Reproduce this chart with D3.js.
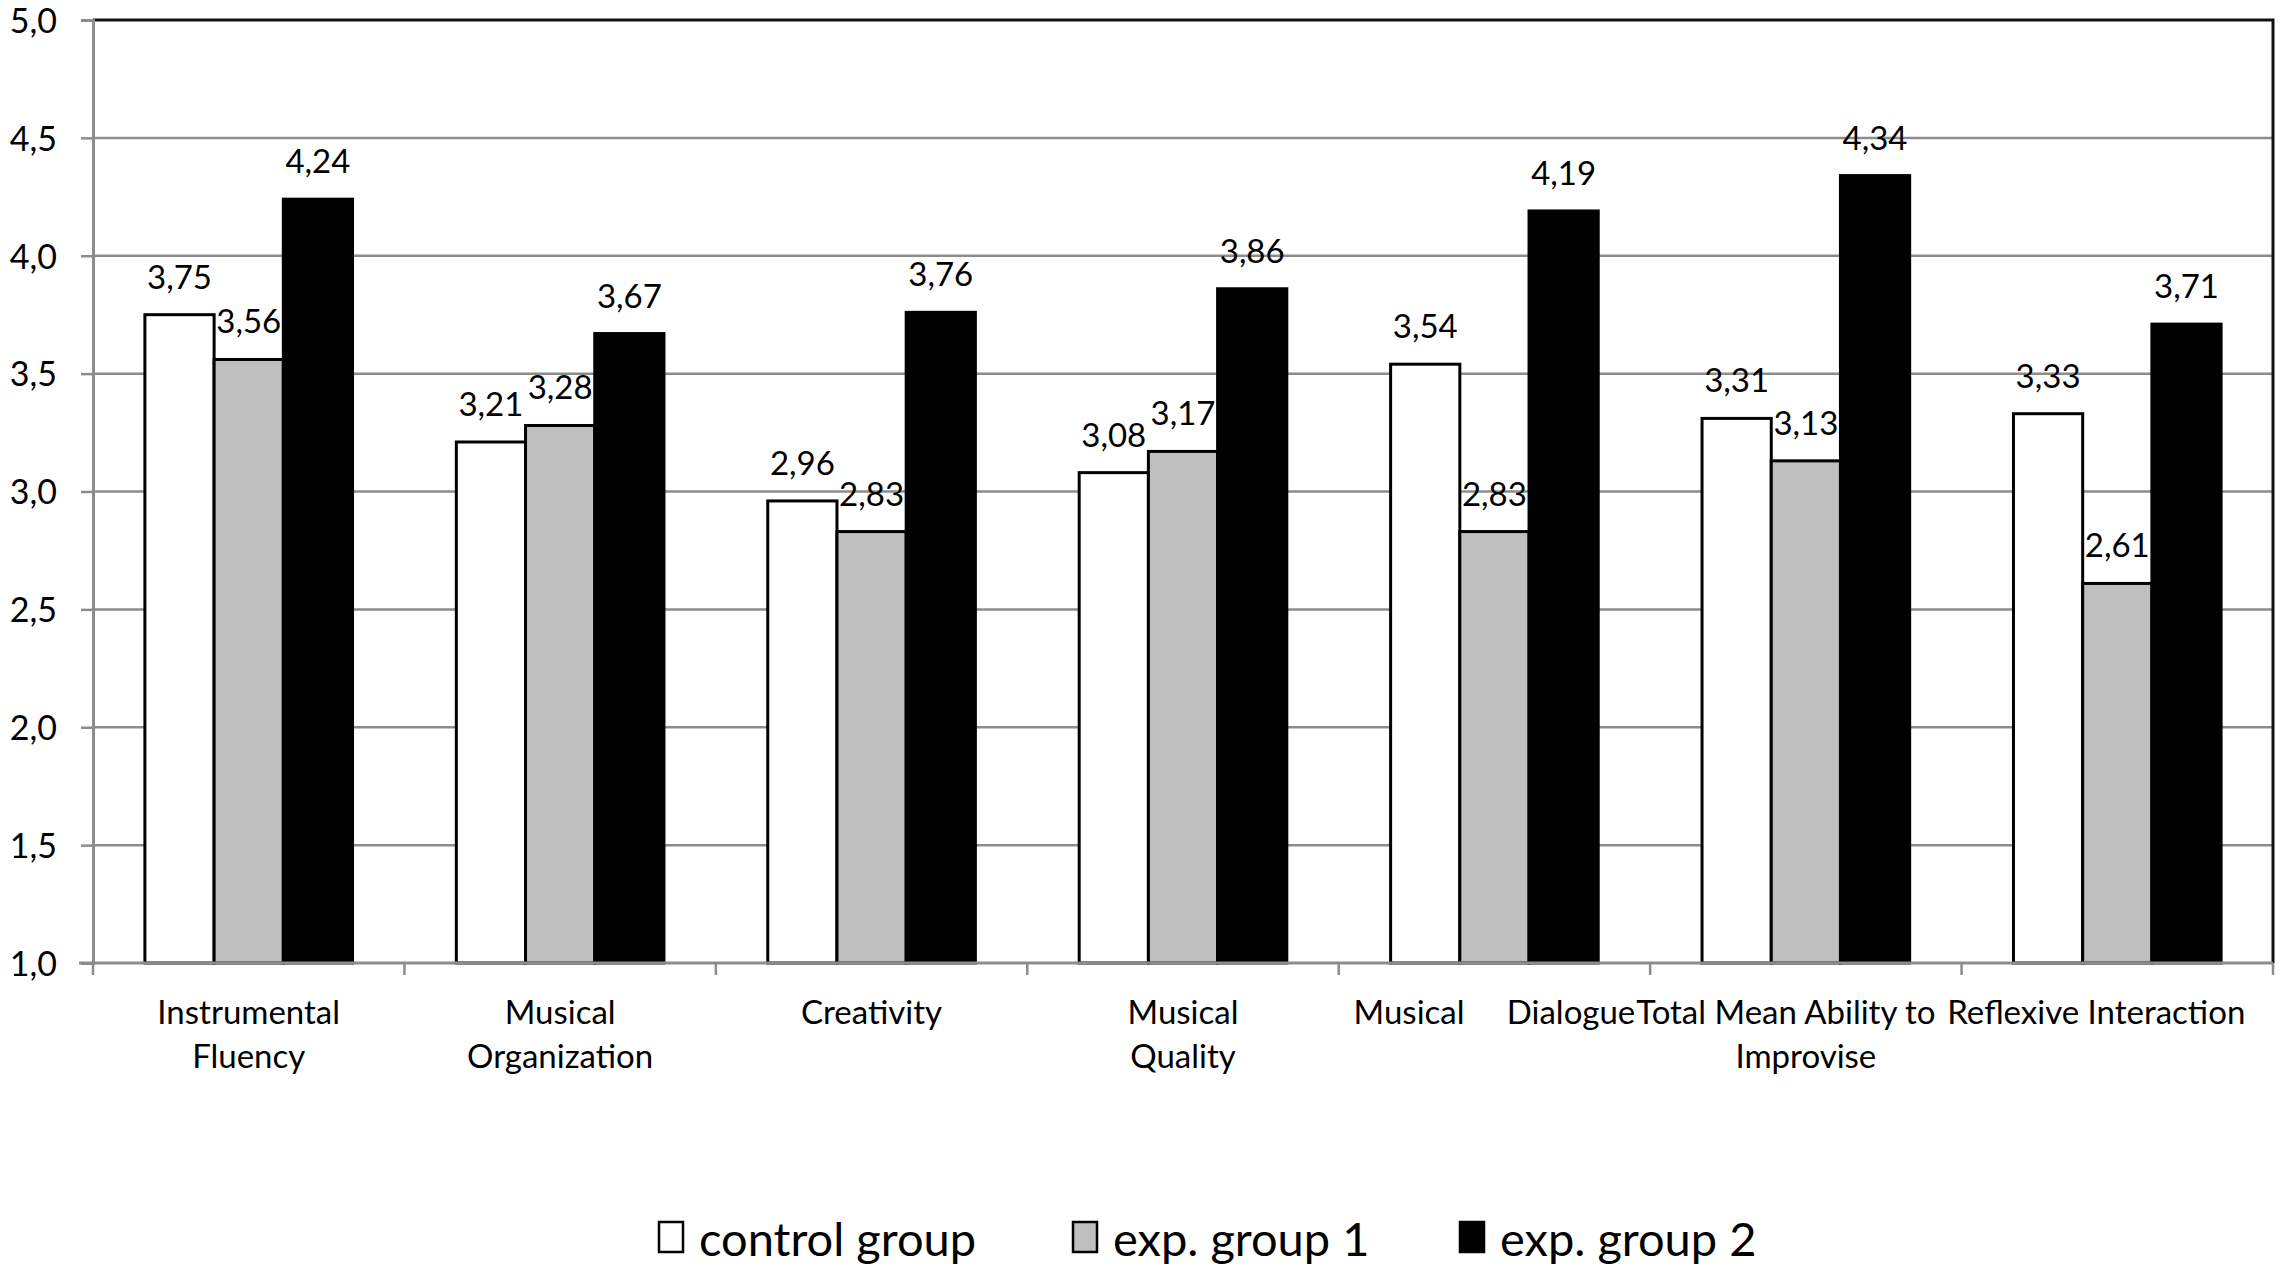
<!DOCTYPE html>
<html>
<head>
<meta charset="utf-8">
<script src="https://cdn.jsdelivr.net/npm/d3@7"></script>
<style>
  body { margin: 0; background: #fff; }
  text { font-family: Lato, "Open Sans", sans-serif; fill: #000; }
</style>
</head>
<body>
<div id="chart"></div>
<script>
// data
const categories = ["Instrumental Fluency", "Musical Organization", "Creativity", "Musical Quality",
  "Musical Dialogue", "Total Mean Ability to Improvise", "Reflexive Interaction"];
const categoryLines = [
  ["Instrumental", "Fluency"],
  ["Musical", "Organization"],
  ["Creativity"],
  ["Musical", "Quality"],
  ["Musical     Dialogue"],
  ["Total Mean Ability to", "Improvise"],
  ["Reflexive Interaction"]
];
const seriesNames = ["control group", "exp. group 1", "exp. group 2"];
const controlGroup = [3.75, 3.21, 2.96, 3.08, 3.54, 3.31, 3.33];
const expGroup1 = [3.56, 3.28, 2.83, 3.17, 2.83, 3.13, 2.61];
const expGroup2 = [4.24, 3.67, 3.76, 3.86, 4.19, 4.34, 3.71];
const yTicks = [1.0, 1.5, 2.0, 2.5, 3.0, 3.5, 4.0, 4.5, 5.0];

const seriesValues = [controlGroup, expGroup1, expGroup2];
const seriesFill = ["#ffffff", "#bfbfbf", "#000000"];

const width = 2280, height = 1274;
const margin = { top: 20, right: 7, bottom: 311, left: 93 };

const svg = d3.select("#chart").append("svg")
  .attr("width", width)
  .attr("height", height);

const x0 = d3.scaleBand().domain(categories)
  .range([margin.left, width - margin.right]).padding(0);
const x1 = d3.scaleBand().domain(seriesNames)
  .range([0, x0.bandwidth()]).paddingInner(0).paddingOuter(0.75);
const y = d3.scaleLinear().domain([1, 5]).range([height - margin.bottom, margin.top]);

const comma = v => d3.format(".2f")(v).replace(".", ",");

// gridlines
svg.append("g")
  .selectAll("line")
  .data(yTicks.filter(t => t > 1 && t < 5))
  .join("line")
  .attr("x1", margin.left).attr("x2", width - margin.right)
  .attr("y1", d => y(d)).attr("y2", d => y(d))
  .attr("stroke", "#8c8c8c").attr("stroke-width", 2.5);

// plot border top + right
svg.append("path")
  .attr("d", `M${margin.left},${y(5)}H${width - margin.right}V${y(1)}`)
  .attr("fill", "none").attr("stroke", "#111").attr("stroke-width", 3);

// bars
const groups = svg.append("g")
  .selectAll("g")
  .data(categories)
  .join("g")
  .attr("transform", d => `translate(${x0(d)},0)`);

groups.selectAll("rect")
  .data((c, ci) => seriesNames.map((s, si) => ({ s, si, v: seriesValues[si][ci] })))
  .join("rect")
  .attr("x", d => x1(d.s))
  .attr("y", d => y(d.v))
  .attr("width", x1.bandwidth())
  .attr("height", d => y(1) - y(d.v))
  .attr("fill", d => seriesFill[d.si])
  .attr("stroke", "#000")
  .attr("stroke-width", 3);

groups.selectAll("text.val")
  .data((c, ci) => seriesNames.map((s, si) => ({ s, si, v: seriesValues[si][ci] })))
  .join("text")
  .attr("class", "val")
  .attr("x", d => x1(d.s) + x1.bandwidth() / 2)
  .attr("y", d => y(d.v) - 26)
  .attr("text-anchor", "middle")
  .style("font-size", "33px")
  .text(d => comma(d.v));

// y axis
const yAxis = svg.append("g")
  .attr("transform", `translate(${margin.left},0)`)
  .call(d3.axisLeft(y).tickValues(yTicks).tickSize(12).tickPadding(24).tickFormat(d => d3.format(".1f")(d).replace(".", ",")));
yAxis.select(".domain").attr("stroke", "#8c8c8c").attr("stroke-width", 3);
yAxis.selectAll(".tick line").attr("stroke", "#8c8c8c").attr("stroke-width", 2.5);
yAxis.selectAll(".tick text").style("font-size", "34px").attr("dy", "0.36em");

// x axis
const boundaries = categories.map(c => x0(c)).concat([x0.range()[1]]);
svg.append("line")
  .attr("x1", margin.left - 14).attr("x2", width - margin.right)
  .attr("y1", y(1)).attr("y2", y(1))
  .attr("stroke", "#8c8c8c").attr("stroke-width", 3);
svg.append("g")
  .selectAll("line")
  .data(boundaries)
  .join("line")
  .attr("x1", d => d).attr("x2", d => d)
  .attr("y1", y(1)).attr("y2", y(1) + 12)
  .attr("stroke", "#8c8c8c").attr("stroke-width", 2.5);

// first-line nudges, like Excel squeezing the long labels
const labelNudge = [0, 0, 0, 0, 0, -20, -21];
const catLabels = svg.append("g")
  .selectAll("text")
  .data(categories)
  .join("text")
  .attr("text-anchor", "middle")
  .attr("transform", d => `translate(${x0(d) + x0.bandwidth() / 2},${y(1) + 61})`)
  .style("font-size", "33px")
  .style("white-space", "pre");
catLabels.selectAll("tspan")
  .data((d, i) => categoryLines[i].map((t, li) => ({ t, li, ci: i })))
  .join("tspan")
  .attr("x", d => d.li === 0 ? labelNudge[d.ci] : 0)
  .attr("dy", d => d.li === 0 ? 0 : 44)
  .text(d => d.t);

// legend
const legendX = [659, 1073, 1460];
const legend = svg.append("g")
  .selectAll("g")
  .data(seriesNames)
  .join("g")
  .attr("transform", (d, i) => `translate(${legendX[i]},1222)`);
legend.append("rect")
  .attr("width", 24).attr("height", 30)
  .attr("fill", (d, i) => seriesFill[i])
  .attr("stroke", "#000").attr("stroke-width", 2.5);
legend.append("text")
  .attr("x", 40).attr("y", 34)
  .style("font-size", "47px")
  .text(d => d);
</script>
</body>
</html>
